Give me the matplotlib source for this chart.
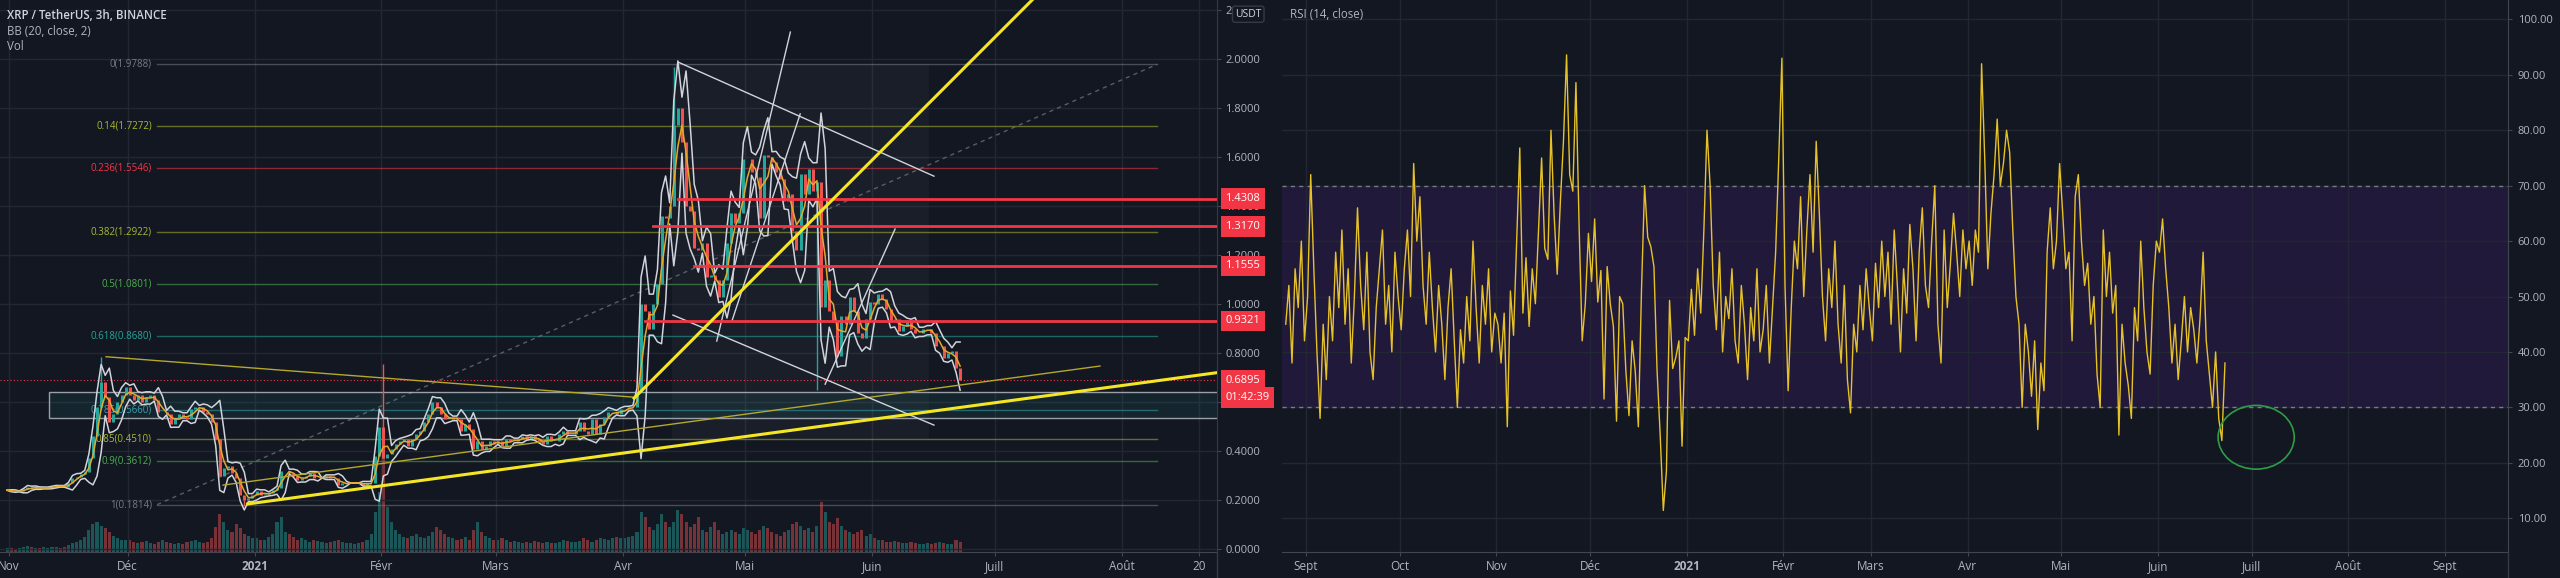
import matplotlib
matplotlib.use("Agg")
import matplotlib.pyplot as plt
from matplotlib.patches import Rectangle, Ellipse
from matplotlib.lines import Line2D
import numpy as np
import pandas as pd

plt.rcParams['font.family'] = ['Open Sans', 'DejaVu Sans']

### tradingview dark colours
BG = '#131722'
GRID = '#232733'
AXTXT = '#b2b5be'
UP, DOWN = '#26a69a', '#ef5350'
RED = '#f23645'

W, H = 2560, 578

# %% price panel data, daily closes, day 0 = 1 Nov 2020
price_nov = [0.240, 0.236, 0.234, 0.236, 0.244, 0.254, 0.246, 0.252, 0.248, 0.248,
             0.252, 0.254, 0.258, 0.256, 0.254, 0.268, 0.290, 0.295, 0.305, 0.315,
             0.370, 0.460, 0.580, 0.680, 0.620, 0.520, 0.550, 0.600, 0.630, 0.660]
price_dec = [0.630, 0.610, 0.630, 0.600, 0.620, 0.630, 0.610, 0.560, 0.560, 0.550,
             0.510, 0.530, 0.550, 0.540, 0.530, 0.570, 0.580, 0.580, 0.560, 0.550,
             0.520, 0.450, 0.300, 0.330, 0.340, 0.310, 0.290, 0.220, 0.200, 0.210, 0.220]
price_jan = [0.237, 0.220, 0.225, 0.230, 0.240, 0.250, 0.320, 0.320, 0.310, 0.300,
             0.280, 0.290, 0.300, 0.310, 0.290, 0.290, 0.290, 0.300, 0.290, 0.290,
             0.260, 0.270, 0.270, 0.270, 0.270, 0.270, 0.260, 0.270, 0.270, 0.380, 0.500]
price_feb = [0.370, 0.390, 0.410, 0.430, 0.440, 0.450, 0.420, 0.450, 0.470, 0.480,
             0.520, 0.550, 0.600, 0.580, 0.550, 0.530, 0.530, 0.540, 0.530, 0.480,
             0.510, 0.490, 0.410, 0.440, 0.410, 0.420, 0.440, 0.430]
price_mar = [0.440, 0.420, 0.450, 0.440, 0.440, 0.450, 0.460, 0.450, 0.460, 0.450,
             0.440, 0.430, 0.460, 0.440, 0.440, 0.470, 0.480, 0.470, 0.470, 0.480,
             0.520, 0.480, 0.470, 0.530, 0.470, 0.510, 0.540, 0.560, 0.560, 0.550, 0.570]
price_apr = [0.570, 0.580, 0.580, 0.640, 1.000, 0.970, 0.900, 1.000, 1.080, 1.360,
             1.350, 1.400, 1.730, 1.800, 1.660, 1.400, 1.380, 1.230, 1.220, 1.250,
             1.110, 1.120, 1.100, 1.030, 1.100, 1.250, 1.370, 1.330, 1.370, 1.590]
price_may = [1.590, 1.540, 1.520, 1.350, 1.610, 1.600, 1.580, 1.540, 1.510, 1.420,
             1.450, 1.300, 1.220, 1.530, 1.450, 1.550, 1.460, 1.500, 0.990, 1.100,
             0.970, 0.930, 0.790, 0.950, 0.920, 1.030, 0.970, 0.880, 0.860, 0.940, 1.010]
price_jun = [1.000, 1.040, 1.020, 0.980, 0.930, 0.940, 0.890, 0.910, 0.930, 0.900,
             0.880, 0.880, 0.900, 0.900, 0.880, 0.830, 0.830, 0.780, 0.800, 0.810,
             0.740, 0.690]

### wicks that stick out of the bands
wick_days = [23, 58, 92, 163, 198]
wick_prices = [0.785, 0.175, 0.755, 1.966, 0.650]

vol_nov = [4, 4, 3, 4, 5, 6, 5, 4, 4, 5, 4, 5, 5, 4, 5, 7, 9, 10, 12, 15,
           22, 28, 30, 26, 24, 20, 16, 14, 12, 12]
vol_dec = [12, 10, 9, 10, 11, 9, 8, 10, 12, 10, 9, 8, 9, 8, 10, 11, 12, 10, 9, 10,
           14, 25, 38, 30, 22, 20, 28, 24, 18, 16, 14]
vol_jan = [14, 12, 12, 15, 18, 30, 35, 20, 18, 15, 12, 14, 12, 10, 12, 11, 10, 9, 10, 11,
           12, 10, 9, 9, 8, 9, 10, 12, 18, 40, 60]
vol_feb = [100, 45, 30, 22, 18, 15, 14, 16, 18, 15, 14, 16, 20, 25, 22, 18, 15, 14, 12, 13,
           15, 12, 22, 30, 20, 16, 14, 12]
vol_mar = [12, 14, 12, 10, 11, 10, 9, 10, 9, 11, 10, 9, 10, 9, 9, 10, 12, 11, 10, 10,
           11, 14, 12, 10, 12, 14, 13, 12, 14, 15, 14]
vol_apr = [14, 15, 16, 20, 40, 35, 25, 22, 28, 38, 30, 25, 30, 42, 38, 30, 25, 28, 35, 22,
           20, 25, 30, 22, 18, 20, 22, 20, 18, 24]
vol_may = [22, 20, 18, 22, 26, 24, 20, 18, 16, 20, 22, 28, 30, 26, 22, 24, 20, 26, 50, 40,
           30, 28, 34, 26, 22, 20, 18, 20, 22, 16, 18]
vol_jun = [14, 12, 12, 10, 10, 11, 10, 9, 9, 10, 9, 8, 8, 9, 8, 9, 10, 9, 8, 8, 12, 10]

### fib retracement
fib_levels = ['0', '0.14', '0.236', '0.382', '0.5', '0.618', '0.786', '0.85', '0.9', '1']
fib_prices = [1.9788, 1.7272, 1.5546, 1.2922, 1.0801, 0.8680, 0.5660, 0.4510, 0.3612, 0.1814]
fib_colors = ['#787b86', '#a9b932', '#f23645', '#a9b932', '#4caf50', '#26a69a',
              '#3a9fb0', '#a9b932', '#4caf50', '#787b86']
fib_from_day, fib_to_day = 37.2, 281.7

### horizontal levels marked in red
res_prices = [1.4308, 1.3170, 1.1555, 0.9321]
res_from_day = [164.5, 158.5, 168.5, 156.5]
last_price = 0.6895
countdown = '01:42:39'

### support box
zone_from_day, zone_lo, zone_hi = 10.8, 0.535, 0.641

### hand drawn lines: (day0, price0, day1, price1)
yellow_thick = [(59.3, 0.184, 296.3, 0.720), (153.8, 0.616, 251.1, 2.241)]
olive_thin = [(24.7, 0.785, 153.7, 0.620), (53.3, 0.261, 267.7, 0.747)]
white_thin = [(164.5, 1.988, 227.1, 1.522), (163.3, 0.955, 227.1, 0.506),
              (174.0, 0.849, 192.0, 2.110), (177.7, 0.930, 194.4, 1.776),
              (200.5, 0.673, 217.6, 1.306)]

left_tick_days = [1, 30, 61, 92, 120, 151, 181, 212, 242, 273, 292]
left_tick_labels = ['Nov', 'Déc', '2021', 'Févr', 'Mars', 'Avr', 'Mai', 'Juin', 'Juill', 'Août', '20']
price_ticks = [0, 0.2, 0.4, 0.6, 0.8, 1.0, 1.2, 1.4, 1.6, 1.8, 2.0, 2.2]
price_tick_labels = ['0.0000', '0.2000', '0.4000', '0.6000', '0.8000', '1.0000', '1.2000',
                     '1.4000', '1.6000', '1.8000', '2.0000', '2']

# %% RSI panel data, one value a day, day 0 = 1 Sept 2020
rsi_first_day = -7
rsi_sep = [45, 52, 38, 55, 48, 60, 42, 50,
           72, 55, 40, 28, 45, 35, 50, 42, 58, 48,
           62, 45, 55, 38, 50, 66, 52, 44, 58, 40,
           35, 48, 55, 62, 45, 52, 40, 58, 50]
rsi_oct = [44, 55, 62, 50, 74, 60, 68, 52, 45, 58, 48, 40, 52, 45, 35, 48, 55, 42, 30, 44,
           38, 50, 42, 60, 48, 38, 52, 45, 55, 40, 47]
rsi_nov = [45, 38, 47, 26.5, 51, 43, 60, 76.8, 47, 57, 44.6, 55, 48.7, 62, 75, 58.7, 56.7, 80,
           64.8, 54, 67, 78, 93.6, 72, 69, 88.6, 63, 42, 48.7, 61.4]
rsi_dec = [52.7, 64, 49, 54.7, 31.5, 55.4, 48.7, 44.6, 27.5, 50, 48.7, 36.6, 28.5, 42, 36.6,
           26.5, 51, 70, 60.7, 59, 55.4, 36.6, 25, 11.4, 18.5, 49.3, 37, 39, 42, 23, 42.6]
rsi_jan = [42, 51.3, 43, 55, 47, 62, 80, 70, 52, 44, 58, 40, 50, 46, 55, 42, 38, 52, 45, 35,
           48, 42, 55, 40, 44, 52, 38, 48, 58, 75, 93]
rsi_feb = [52, 33, 48, 60, 55, 68, 50, 62, 72, 58, 78, 65, 50, 42, 55, 48, 60, 45, 38, 52,
           35, 29, 45, 40, 52, 44, 55, 48]
rsi_mar = [42, 56, 48, 60, 50, 58, 45, 62, 52, 40, 55, 47, 63, 55, 42, 58, 66, 52, 48, 60,
           70, 45, 38, 62, 48, 56, 65, 58, 50, 62, 55]
rsi_apr = [60, 52, 62, 58, 92, 75, 55, 65, 72, 82, 70, 74, 80, 76, 62, 50, 45, 30, 45, 40,
           32, 42, 26, 38, 33, 58, 66, 55, 60, 74]
rsi_may = [65, 55, 58, 42, 68, 72, 60, 52, 56, 45, 50, 36, 30, 62, 50, 58, 47, 52, 25, 45,
           38, 34, 28, 48, 42, 60, 48, 40, 36, 52, 60]
rsi_jun = [58, 64, 55, 48, 38, 45, 35, 42, 50, 40, 48, 44, 38, 46, 58, 42, 36, 30, 40, 28,
           24, 38]

rsi_tick_days = [0, 30, 61, 91, 122, 153, 181, 212, 242, 273, 303, 334, 365]
rsi_tick_labels = ['Sept', 'Oct', 'Nov', 'Déc', '2021', 'Févr', 'Mars', 'Avr', 'Mai', 'Juin',
                   'Juill', 'Août', 'Sept']

### circled area on the RSI: centre day, centre value, width (days), height
circle_rsi = (304.5, 24.6, 24.4, 11.5)


# %% helpers
def fx(x):
    return x / W

def fy(y):
    return 1 - y / H


close = np.array(price_nov + price_dec + price_jan + price_feb + price_mar
                 + price_apr + price_may + price_jun)
volume = np.array(vol_nov + vol_dec + vol_jan + vol_feb + vol_mar + vol_apr + vol_may + vol_jun)
days = np.arange(len(close)) + 0.5
opens = np.r_[close[0], close[:-1]]
is_up = close >= opens
cndl_cols = np.where(is_up, UP, DOWN)

### BB (20 x 3h ~ 2.5 days) on the daily closes
cs = pd.Series(close)
bb_mid = cs.rolling(3, min_periods=1).mean()
bb_std = cs.rolling(3, min_periods=1).std(ddof=0)
bb_up, bb_dn = bb_mid + 2 * bb_std, bb_mid - 2 * bb_std

fig = plt.figure(figsize=(W / 100, H / 100), dpi=100, facecolor=BG)

# %% price panel
ax = fig.add_axes([0, fy(552), fx(1217), 552 / H])
axv = ax.twinx()
ax.set_zorder(axv.get_zorder() + 1)
ax.patch.set_visible(False)
axv.set_facecolor(BG)

ax.set_xlim(-1.22, 296.3)
ax.set_ylim(-0.012, 2.241)
axv.set_ylim(0, 552)
axv.yaxis.set_visible(False)
for s in axv.spines.values():
    s.set_visible(False)

axv.bar(days, volume, width=0.75, color=cndl_cols, alpha=0.45, linewidth=0)

ax.grid(True, color=GRID, lw=1)
ax.set_axisbelow(True)

# lighter shaded drawing
ax.add_patch(Rectangle((163, 0.45), 63, 1.53, fc='white', alpha=0.03, ec='none', zorder=0.6))

# support box
ax.add_patch(Rectangle((zone_from_day, zone_lo), 300, zone_hi - zone_lo,
                       fc='#26a69a', alpha=0.10, ec='none', zorder=1.1))
ax.add_patch(Rectangle((zone_from_day, zone_lo), 300, zone_hi - zone_lo,
                       fc='none', ec='#b2b5be', lw=1, alpha=0.85, zorder=1.2))

# fib
for lvl, p, c in zip(fib_levels, fib_prices, fib_colors):
    ax.plot([fib_from_day, fib_to_day], [p, p], color=c, lw=1, alpha=0.55, zorder=1)
    ax.text(fib_from_day - 1.3, p, f'{lvl}({p:.4f})', color=c, fontsize=7, ha='right',
            va='center', zorder=1.5)
ax.plot([fib_from_day, fib_to_day], [fib_prices[-1], fib_prices[0]], color='#787b86',
        lw=1, ls=(0, (3, 3)), alpha=0.7, zorder=1)

# candles
ax.vlines(days, np.minimum(opens, close), np.maximum(opens, close), colors=cndl_cols,
          lw=2.2, zorder=3)
for d, wp in zip(wick_days, wick_prices):
    ax.vlines(days[d], min(close[d], wp), max(close[d], wp), colors=cndl_cols[d], lw=1, zorder=3)

# BB
ax.plot(days, bb_up, color='#d1d4dc', lw=1.1, zorder=3.5)
ax.plot(days, bb_dn, color='#d1d4dc', lw=1.1, zorder=3.5)
ax.plot(days, bb_mid, color='#e3a92b', lw=1.1, zorder=3.6)

# drawings
for x0, y0, x1, y1 in olive_thin:
    ax.plot([x0, x1], [y0, y1], color='#b5a82a', lw=1, zorder=4)
for x0, y0, x1, y1 in white_thin:
    ax.plot([x0, x1], [y0, y1], color='#d1d4dc', lw=1, zorder=4)
for x0, y0, x1, y1 in yellow_thick:
    ax.plot([x0, x1], [y0, y1], color='#f5e625', lw=2.2, zorder=4.5)

for p, d0 in zip(res_prices, res_from_day):
    ax.plot([d0, 300], [p, p], color=RED, lw=2, zorder=4.2)
ax.axhline(last_price, color=RED, lw=0.8, ls=(0, (1, 2)), zorder=2)

# axes look
ax.yaxis.tick_right()
ax.set_yticks(price_ticks)
ax.set_yticklabels(price_tick_labels)
ax.set_xticks(left_tick_days)
ax.set_xticklabels(left_tick_labels)
ax.get_xticklabels()[2].set_fontweight('bold')
ax.tick_params(axis='y', colors='#434651', labelcolor=AXTXT, labelsize=8, length=3, pad=3)
ax.tick_params(axis='x', colors='#434651', labelcolor=AXTXT, labelsize=8.5, length=3, pad=3)
for k in ['left', 'top']:
    ax.spines[k].set_visible(False)
ax.spines['right'].set_color('#363a45')
ax.spines['bottom'].set_color('#434651')

# price tags on the axis
def price_tag(y, txt, dy=0):
    ax.annotate(txt, xy=(1, y), xycoords=('axes fraction', 'data'), xytext=(6, dy),
                textcoords='offset points', ha='left', va='center', fontsize=8,
                color='white', zorder=10, annotation_clip=False,
                bbox=dict(boxstyle='square,pad=0.42', fc=RED, ec='none'))

for p in res_prices:
    price_tag(p, f'{p:.4f}')
price_tag(last_price, f'{last_price:.4f}')
price_tag(last_price, countdown, dy=-12.5)

ax.annotate('USDT', xy=(1, 2.2), xycoords=('axes fraction', 'data'), xytext=(13, -3),
            textcoords='offset points', ha='left', va='center', fontsize=7.5,
            color='#d1d4dc', zorder=10, annotation_clip=False,
            bbox=dict(boxstyle='round,pad=0.25', fc=BG, ec='#363a45', lw=1))

fig.text(fx(7), fy(15.5), 'XRP / TetherUS, 3h, BINANCE', color='#d1d4dc', fontsize=8.3,
         fontweight='semibold', va='center')
fig.text(fx(7), fy(31.5), 'BB (20, close, 2)', color=AXTXT, fontsize=8.3, va='center')
fig.text(fx(7), fy(47), 'Vol', color=AXTXT, fontsize=8.3, va='center')

# %% RSI panel
rsi = np.array(rsi_sep + rsi_oct + rsi_nov + rsi_dec + rsi_jan + rsi_feb + rsi_mar
               + rsi_apr + rsi_may + rsi_jun)
rsi_days = np.arange(len(rsi)) + rsi_first_day + 0.5

ax2 = fig.add_axes([fx(1282), fy(552), fx(2508 - 1282), 552 / H])
ax2.set_facecolor(BG)
ax2.set_xlim(-7.7, 385.2)
ax2.set_ylim(3.9, 103.5)
ax2.axhspan(30, 70, color='#21193a', zorder=0.2, lw=0)
ax2.grid(True, color=GRID, lw=1)
ax2.set_axisbelow(True)
for lvl in [70, 30]:
    ax2.axhline(lvl, color='#787b86', lw=1, ls=(0, (3, 3)), zorder=1)
ax2.plot(rsi_days, rsi, color='#e6c229', lw=1, zorder=3)

cx, cy, cw, ch = circle_rsi
ax2.add_patch(Ellipse((cx, cy), cw, ch, fc='none', ec='#2e9d46', lw=1.2, zorder=4))

ax2.yaxis.tick_right()
ax2.set_yticks(np.arange(10, 101, 10))
ax2.set_yticklabels([f'{v:.2f}' for v in np.arange(10, 101, 10)])
ax2.set_xticks(rsi_tick_days)
ax2.set_xticklabels(rsi_tick_labels)
ax2.get_xticklabels()[4].set_fontweight('bold')
ax2.tick_params(axis='y', colors='#434651', labelcolor=AXTXT, labelsize=8, length=3, pad=4)
ax2.tick_params(axis='x', colors='#434651', labelcolor=AXTXT, labelsize=8.5, length=3, pad=3)
for k in ['left', 'top']:
    ax2.spines[k].set_visible(False)
ax2.spines['right'].set_color('#434651')
ax2.spines['bottom'].set_color('#434651')

fig.text(fx(1290), fy(15), 'RSI (14, close)', color=AXTXT, fontsize=8.3, va='center')

# axis separators run to the bottom of the picture
for xs in [1217, 2508]:
    fig.add_artist(Line2D([fx(xs), fx(xs)], [0, fy(552)], color='#363a45', lw=1))

fig.savefig('out.png', dpi=100, facecolor=BG)
